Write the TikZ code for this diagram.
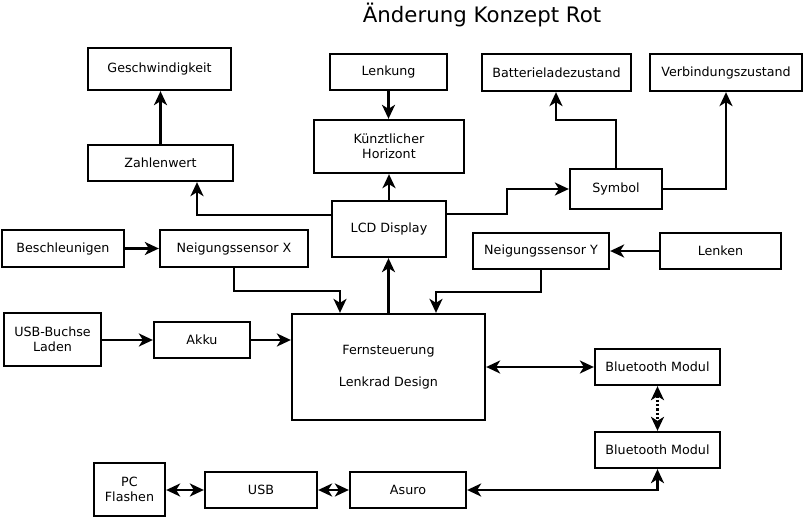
\documentclass[tikz,border=0pt]{standalone}
\usepackage{fontspec}
\setmainfont{DejaVu Sans}
\usetikzlibrary{arrows.meta}

\begin{document}
\begin{tikzpicture}[x=1pt,y=-1pt,
  blk/.style={draw,line width=2.3pt,inner sep=0pt,align=center,font=\fontsize{12.7}{15.5}\selectfont},
  con/.style={line width=2.3pt,-{Stealth[length=14pt,width=13pt,inset=4pt]}},
  bicon/.style={line width=2.3pt,{Stealth[length=14pt,width=13pt,inset=4pt]}-{Stealth[length=14pt,width=13pt,inset=4pt]}}]

  \useasboundingbox (0,0) rectangle (809,519);

  % Title
  \node[font=\fontsize{21.3}{25}\selectfont] (title) at (482,15) {Änderung Konzept Rot};

  % Draw the display boxes
  \node[blk,minimum width=143pt,minimum height=42pt] (geschw) at (159.5,69) {Geschwindigkeit};
  \node[blk,minimum width=145pt,minimum height=36pt] (zahl) at (160.5,163) {Zahlenwert};
  \node[blk,minimum width=117pt,minimum height=36pt] (lenkung) at (388.5,72) {Lenkung};
  \node[blk,minimum width=150pt,minimum height=53pt] (horizont) at (389,146.5) {Künztlicher\\Horizont};
  \node[blk,minimum width=114pt,minimum height=56pt] (lcd) at (389,229) {LCD Display};
  \node[blk,minimum width=149pt,minimum height=37pt] (batt) at (556.5,72.5) {Batterieladezustand};
  \node[blk,minimum width=152pt,minimum height=37pt] (verb) at (726,72.5) {Verbindungszustand};
  \node[blk,minimum width=92pt,minimum height=40pt] (symbol) at (616,189) {Symbol};

  % Draw the sensor boxes
  \node[blk,minimum width=122pt,minimum height=37pt] (besch) at (63,248.5) {Beschleunigen};
  \node[blk,minimum width=148pt,minimum height=37pt] (nsx) at (234,248.5) {Neigungssensor X};
  \node[blk,minimum width=136pt,minimum height=36pt] (nsy) at (541,251) {Neigungssensor Y};
  \node[blk,minimum width=121pt,minimum height=36pt] (lenken) at (720.5,251) {Lenken};

  % Draw the remote control and power supply
  \node[blk,minimum width=97pt,minimum height=53pt] (buchse) at (52.5,339.5) {USB-Buchse\\Laden};
  \node[blk,minimum width=96pt,minimum height=36pt] (akku) at (202,340) {Akku};
  \node[blk,minimum width=193pt,minimum height=106pt] (fern) at (388.5,367) {Fernsteuerung\\[17pt]Lenkrad Design};
  \node[blk,minimum width=125pt,minimum height=36pt] (bt1) at (657.5,367) {Bluetooth Modul};
  \node[blk,minimum width=125pt,minimum height=36pt] (bt2) at (657.5,450) {Bluetooth Modul};

  % Draw the robot side
  \node[blk,minimum width=71pt,minimum height=53pt] (pc) at (129.5,489.5) {PC\\Flashen};
  \node[blk,minimum width=112pt,minimum height=36pt] (usb) at (261,490) {USB};
  \node[blk,minimum width=116pt,minimum height=36pt] (asuro) at (408,490) {Asuro};

  % Draw the connections of the display
  \draw[con] (zahl.north) -- (zahl.north |- geschw.south);
  \draw[con] (lenkung.south) -- (lenkung.south |- horizont.north);
  \draw[con] (lcd.north) -- (lcd.north |- horizont.south);
  \draw[con] (lcd.west |- 0,215) -| (197,0 |- zahl.south);
  \draw[con] (lcd.east |- 0,214) -- (507,214) |- (symbol.west);
  \draw[con] (symbol.north) |- (556,120) -- (556,0 |- batt.south);
  \draw[con] (symbol.east) -| (verb.south);

  % Draw the connections of the sensors
  \draw[con] (besch.east) -- (nsx.west);
  \draw[con] (lenken.west) -- (nsy.east);
  \draw[con] (nsx.south) |- (340,291) -- (340,0 |- fern.north);
  \draw[con] (nsy.south) |- (436,292) -- (436,0 |- fern.north);
  \draw[con] (fern.north) -- (fern.north |- lcd.south);

  % Draw the power supply
  \draw[con] (buchse.east |- akku) -- (akku.west);
  \draw[con] (akku.east) -- (akku.east -| fern.west);

  % Draw the radio link
  \draw[bicon] (fern.east |- bt1) -- (bt1.west);
  \draw[bicon,dotted] (bt1.south) -- (bt2.north);
  \draw[bicon] (asuro.east) -| (bt2.south);
  \draw[bicon] (pc.east |- usb) -- (usb.west);
  \draw[bicon] (usb.east) -- (asuro.west);

\end{tikzpicture}
\end{document}
